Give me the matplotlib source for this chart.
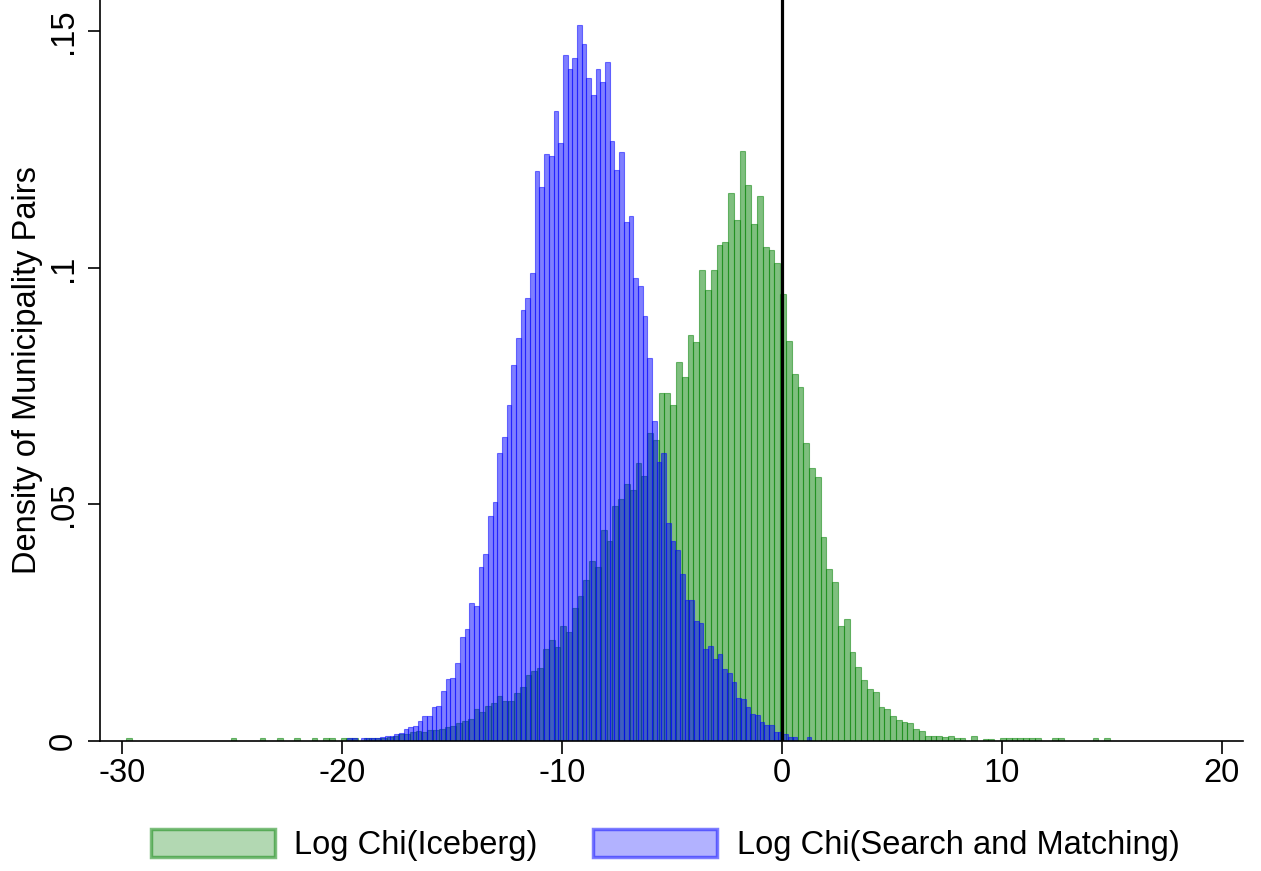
import numpy as np
import matplotlib
matplotlib.use("Agg")
import matplotlib.pyplot as plt
from matplotlib.patches import Patch

plt.rcParams['font.family'] = ['Liberation Sans', 'DejaVu Sans']
plt.rcParams['axes.unicode_minus'] = False

# ---- data: histogram bin heights (density) ----
green_first_edge = -29.788   # Log Chi(Iceberg)
green_bin_width = 0.263
green_heights = [
    .0006, 0, 0, 0, 0, 0, 0, 0, 0, 0,
    0, 0, 0, 0, 0, 0, 0, 0, .0006, 0,
    0, 0, 0, .0006, 0, 0, .0006, 0, 0, .0006,
    0, 0, .0006, 0, .0006, .0006, 0, .0006, .0006, .0006,
    0, .0006, .0006, .0006, .0006, .0009, .0011, .0014, .0014, .0018,
    .0022, .0019, .0024, .0024, .0026, .0030, .0032, .0037, .0042, .0047,
    .0067, .0061, .0074, .0081, .0095, .0085, .0085, .0101, .0115, .0140,
    .0147, .0154, .0194, .0213, .0198, .0244, .0230, .0281, .0306, .0340,
    .0380, .0367, .0446, .0423, .0497, .0511, .0544, .0530, .0587, .0561,
    .0651, .0637, .0736, .0736, .0711, .0801, .0770, .0857, .0843, .0995,
    .0953, .0995, .1049, .1054, .1159, .1102, .1247, .1176, .1092, .1151,
    .1044, .1038, .1010, .0945, .0846, .0775, .0748, .0629, .0578, .0558,
    .0432, .0363, .0335, .0243, .0257, .0189, .0156, .0129, .0110, .0104,
    .0071, .0068, .0053, .0045, .0040, .0037, .0025, .0021, .0011, .0011,
    .0011, .0008, .0011, .0007, .0007, 0, .0011, 0, .0005, .0005,
    0, .0006, .0006, .0006, .0006, .0006, .0006, .0006, 0, 0,
    .0006, .0006, 0, 0, 0, 0, 0, .0006, 0, .0006,
]

blue_first_edge = -19.957    # Log Chi(Search and Matching)
blue_bin_width = 0.213
blue_heights = [
    0, .0006, .0006, 0, .0006, .0006, .0006, .0006, .0008, .0011,
    .0011, .0014, .0016, .0025, .0030, .0032, .0042, .0052, .0052, .0071,
    .0073, .0105, .0130, .0133, .0164, .0220, .0237, .0291, .0285, .0367,
    .0395, .0476, .0505, .0609, .0643, .0711, .0795, .0851, .0911, .0937,
    .0990, .1204, .1170, .1241, .1237, .1331, .1263, .1449, .1421, .1444,
    .1513, .1473, .1401, .1365, .1421, .1393, .1435, .1269, .1207, .1244,
    .1097, .1109, .0979, .0962, .0899, .0809, .0677, .0590, .0609, .0460,
    .0423, .0404, .0353, .0299, .0297, .0254, .0250, .0195, .0201, .0173,
    .0184, .0153, .0144, .0125, .0090, .0088, .0071, .0057, .0056, .0040,
    .0034, .0033, .0019, .0018, .0015, .0008, .0008, 0, 0, .0008,
]

series_labels = ["Log Chi(Iceberg)", "Log Chi(Search and Matching)"]
x_ticks = [-30, -20, -10, 0, 10, 20]
x_tick_labels = ["-30", "-20", "-10", "0", "10", "20"]
y_ticks = [0, 0.05, 0.10, 0.15]
y_tick_labels = ["0", ".05", ".1", ".15"]
y_label = "Density of Municipality Pairs"
ref_line_x = 0

# ---- styling ----
FS = 23.5
green_fill = (0, 0.5, 0, 0.5)
blue_fill = (0, 0, 1, 0.5)
green_leg = (0, 0.5, 0, 0.3)
blue_leg = (0, 0, 1, 0.3)

W, H = 1261, 871
fig = plt.figure(figsize=(W / 100, H / 100), dpi=100)
ax = fig.add_axes([100 / W, 1 - 741 / H, (1243 - 100) / W, 741 / H])


def draw_hist(first_edge, width, heights, color):
    h = np.asarray(heights, dtype=float)
    edges = first_edge + width * np.arange(len(h))
    m = h > 0
    ax.bar(edges[m], h[m], width=width, align='edge', color=color,
           edgecolor=color, linewidth=0.8)


draw_hist(green_first_edge, green_bin_width, green_heights, green_fill)
draw_hist(blue_first_edge, blue_bin_width, blue_heights, blue_fill)

ax.axvline(ref_line_x, color='black', linewidth=2.3, zorder=5)

ax.set_xlim(-30.99, 20.97)
ax.set_ylim(0, 0.1566)

for s in ['top', 'right']:
    ax.spines[s].set_visible(False)
for s in ['left', 'bottom']:
    ax.spines[s].set_linewidth(1.2)

ax.set_xticks(x_ticks)
ax.set_xticklabels(x_tick_labels, fontsize=FS)
ax.set_yticks(y_ticks)
ax.set_yticklabels(y_tick_labels, fontsize=FS, rotation=90, va='center')
ax.tick_params(axis='both', direction='out', length=9, width=1.2)
ax.tick_params(axis='x', pad=3)
ax.tick_params(axis='y', pad=6)
ax.set_ylabel(y_label, fontsize=FS, labelpad=4)

handles = [Patch(facecolor=green_leg, edgecolor=green_fill, linewidth=2.5),
           Patch(facecolor=blue_leg, edgecolor=blue_fill, linewidth=2.5)]
fig.legend(handles, series_labels, loc='center', ncol=2, frameon=False,
           fontsize=FS, bbox_to_anchor=(665 / W, 1 - 845 / H),
           handlelength=3.8, handleheight=0.95, handletextpad=0.6,
           columnspacing=1.7)

fig.savefig("out.png", dpi=100)
